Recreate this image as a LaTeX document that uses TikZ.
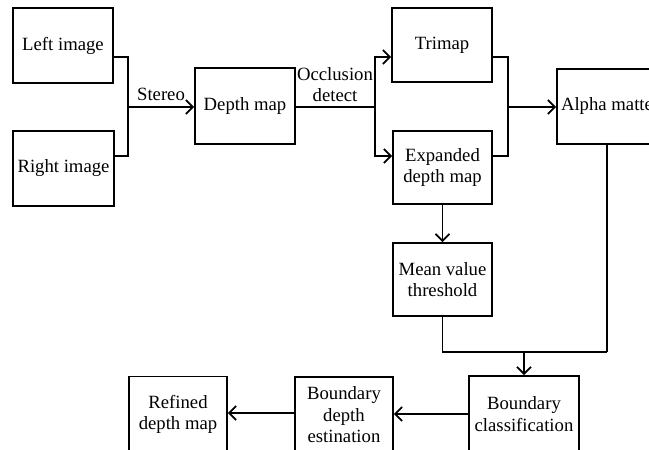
\documentclass[tikz,border=0pt]{standalone}
\usepackage{fontspec}
\setmainfont{Liberation Serif}
\usetikzlibrary{arrows.meta}
\begin{document}
\begin{tikzpicture}[x=1pt,y=-1pt,
  box/.style={draw,line width=1.8pt,rectangle,inner sep=0pt,align=center,
    font=\fontsize{18.7}{21.5}\selectfont},
  conn/.style={line width=1.6pt},
  arr/.style={conn,-{Straight Barb[length=7pt,width=14pt,line width=1.7pt]}},
  lbl/.style={font=\fontsize{18.7}{21}\selectfont,align=center,inner sep=0pt}]
\useasboundingbox (0,0) rectangle (649,450);
\clip (0,0) rectangle (649,450);
\fill[white] (0,0) rectangle (649,450);
% boxes
\node[box,minimum width=100pt,minimum height=75pt] (left) at (63,45.5) {Left image};
\node[box,minimum width=101pt,minimum height=75pt] (right) at (63.5,168.5) {Right image};
\node[box,minimum width=100pt,minimum height=76pt] (depth) at (245,106) {Depth map};
\node[box,minimum width=100pt,minimum height=74pt] (trimap) at (442,45) {Trimap};
\node[box,minimum width=99pt,minimum height=73pt] (expanded) at (442.5,167.5) {Expanded\\depth map};
\node[box,minimum width=100pt,minimum height=75pt] (alpha) at (607,106.5) {Alpha matte};
\node[box,minimum width=99pt,minimum height=73pt] (mean) at (442.5,279.5) {Mean value\\threshold};
\node[box,minimum width=110pt,minimum height=76pt] (bclass) at (524,414) {Boundary\\classification};
\node[box,minimum width=98pt,minimum height=76pt] (bdepth) at (344,415) {Boundary\\depth\\estination};
\node[box,minimum width=98pt,minimum height=76pt] (refined) at (178,414.5) {Refined\\depth map};
% labels
\node[lbl] (stereo) at (161,94) {Stereo};
\node[lbl] (occl) at (335,85) {Occlusion\\detect};
% junctions
\coordinate (j1) at (128,107);
\coordinate (j2) at (375,107);
\coordinate (j3) at (508,107);
\coordinate (j4) at (524,352);
\coordinate (j5) at (607,352);
\coordinate (r1) at (295,413);
% connectors
\draw[conn] ([yshift=-11.5pt]left.east) -| (j1);
\draw[conn] ([yshift=12.5pt]right.east) -| (j1);
\draw[arr] (j1) -- (depth.west |- j1);
\draw[conn] (depth.east |- j2) -- (j2);
\draw[arr] (j2) |- ([yshift=-12pt]trimap.west);
\draw[arr] (j2) |- ([yshift=11.5pt]expanded.west);
\draw[conn] ([yshift=-12pt]trimap.east) -| (j3);
\draw[conn] ([yshift=11.5pt]expanded.east) -| (j3);
\draw[arr] (j3) -- (alpha.west |- j3);
\draw[arr] (expanded.south) -- (mean.north);
\draw[conn] (mean.south) |- (j5);
\draw[conn] (alpha.south) -- (j5);
\draw[arr] (j4) -- (bclass.north);
\draw[arr] (bclass.west) -- (bdepth.east |- bclass.west);
\draw[arr] (bdepth.west |- r1) -- (refined.east |- r1);
\end{tikzpicture}
\end{document}
